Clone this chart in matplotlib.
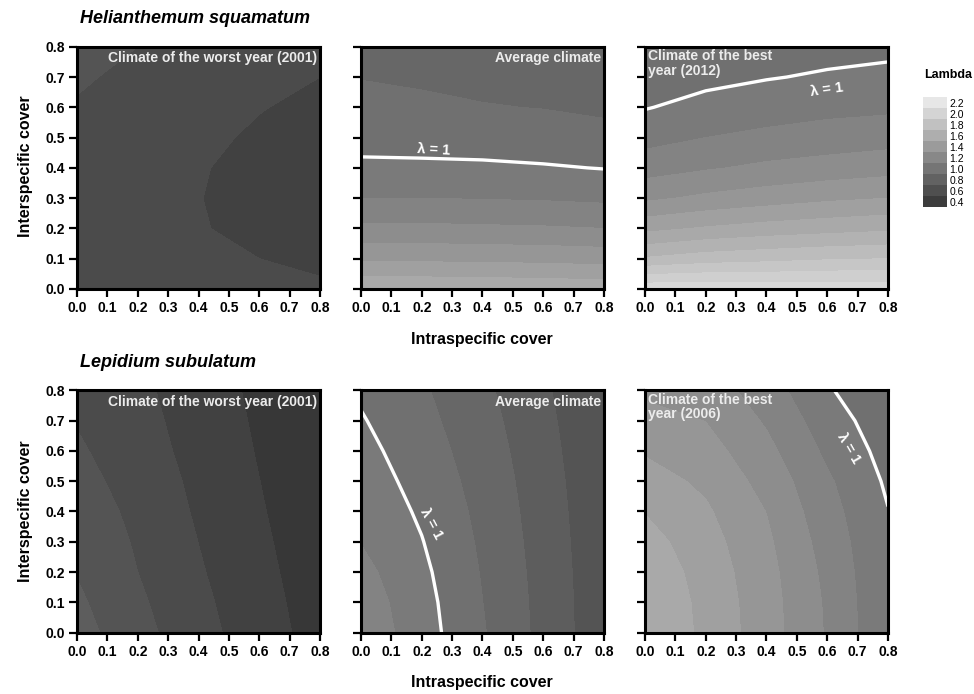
import numpy as np
import matplotlib
matplotlib.use("Agg")
import matplotlib.pyplot as plt
from matplotlib.colors import LinearSegmentedColormap, Normalize

plt.rcParams['font.family'] = ['Liberation Sans', 'DejaVu Sans']
plt.rcParams['font.weight'] = 'bold'

# grid of the model surfaces (cover values)
intra = [0.0, 0.2, 0.4, 0.6, 0.8]
inter = [0.0, 0.1, 0.2, 0.3, 0.4, 0.5, 0.6, 0.7, 0.8]

# lambda, one row per interspecific cover value
h_worst = [
    [0.560, 0.540, 0.525, 0.515, 0.510],
    [0.557, 0.535, 0.515, 0.500, 0.486],
    [0.555, 0.530, 0.505, 0.480, 0.465],
    [0.555, 0.530, 0.502, 0.475, 0.455],
    [0.560, 0.535, 0.505, 0.480, 0.460],
    [0.570, 0.545, 0.515, 0.490, 0.470],
    [0.592, 0.560, 0.532, 0.503, 0.485],
    [0.612, 0.578, 0.550, 0.525, 0.500],
    [0.630, 0.600, 0.570, 0.545, 0.520],
]
h_avg = [
    [1.580, 1.580, 1.575, 1.570, 1.560],
    [1.380, 1.380, 1.375, 1.370, 1.360],
    [1.220, 1.220, 1.215, 1.210, 1.200],
    [1.100, 1.100, 1.095, 1.090, 1.080],
    [1.020, 1.018, 1.015, 1.008, 0.997],
    [0.965, 0.962, 0.958, 0.948, 0.935],
    [0.935, 0.920, 0.905, 0.897, 0.880],
    [0.896, 0.885, 0.875, 0.862, 0.850],
    [0.870, 0.860, 0.850, 0.840, 0.830],
]
h_best = [
    [2.070, 2.070, 2.060, 2.060, 2.050],
    [1.710, 1.750, 1.770, 1.790, 1.800],
    [1.470, 1.510, 1.540, 1.560, 1.580],
    [1.280, 1.320, 1.350, 1.380, 1.400],
    [1.155, 1.190, 1.220, 1.240, 1.260],
    [1.065, 1.100, 1.125, 1.145, 1.160],
    [0.995, 1.030, 1.050, 1.070, 1.080],
    [0.950, 0.975, 0.995, 1.010, 1.020],
    [0.920, 0.940, 0.955, 0.970, 0.980],
]
l_worst = [
    [0.740, 0.633, 0.535, 0.446, 0.360],
    [0.718, 0.617, 0.523, 0.437, 0.353],
    [0.695, 0.600, 0.510, 0.427, 0.346],
    [0.674, 0.589, 0.499, 0.418, 0.339],
    [0.653, 0.577, 0.487, 0.409, 0.332],
    [0.634, 0.560, 0.478, 0.401, 0.326],
    [0.614, 0.543, 0.468, 0.393, 0.319],
    [0.594, 0.532, 0.459, 0.386, 0.313],
    [0.574, 0.521, 0.450, 0.379, 0.307],
]
l_avg = [
    [1.170, 1.044, 0.909, 0.770, 0.633],
    [1.155, 1.036, 0.901, 0.768, 0.632],
    [1.130, 1.022, 0.893, 0.764, 0.630],
    [1.097, 1.004, 0.884, 0.759, 0.627],
    [1.075, 0.985, 0.874, 0.753, 0.623],
    [1.053, 0.965, 0.863, 0.746, 0.619],
    [1.031, 0.946, 0.851, 0.737, 0.614],
    [1.008, 0.929, 0.837, 0.727, 0.609],
    [0.985, 0.913, 0.822, 0.716, 0.603],
]
l_best = [
    [1.600, 1.475, 1.344, 1.190, 1.010],
    [1.594, 1.470, 1.341, 1.186, 1.009],
    [1.574, 1.458, 1.333, 1.175, 1.007],
    [1.540, 1.440, 1.318, 1.158, 1.005],
    [1.496, 1.414, 1.298, 1.136, 1.003],
    [1.443, 1.380, 1.265, 1.115, 0.985],
    [1.390, 1.340, 1.228, 1.080, 0.965],
    [1.337, 1.298, 1.188, 1.046, 0.945],
    [1.280, 1.255, 1.148, 1.010, 0.925],
]

panel_titles = ['Climate of the worst year (2001)', 'Average climate', 'Climate of the best\nyear (2012)',
                'Climate of the worst year (2001)', 'Average climate', 'Climate of the best\nyear (2006)']
species = ['Helianthemum squamatum', 'Lepidium subulatum']
cbar_values = [0.4, 0.6, 0.8, 1.0, 1.2, 1.4, 1.6, 1.8, 2.0, 2.2]
ticks = [0.0, 0.1, 0.2, 0.3, 0.4, 0.5, 0.6, 0.7, 0.8]

surfaces = [h_worst, h_avg, h_best, l_worst, l_avg, l_best]
# where the "lambda = 1" tag sits (x, y, rotation); None when the line is absent
tags = [None, (0.238, 0.46, -3), (0.60, 0.658, 8), None, (0.232, 0.36, -62), (0.67, 0.608, -60)]

levels = np.round(np.arange(3, 24) * 0.1, 1)
cmap = LinearSegmentedColormap.from_list('lam', [(0.2, 0.2, 0.2), (0.94, 0.94, 0.94)])
norm = Normalize(vmin=0.3, vmax=2.3)
txt_col = '#ececec'

fig = plt.figure(figsize=(9.74, 6.94), dpi=100)
lefts = [0.0791, 0.3706, 0.6622]
bottoms = [0.5836, 0.0885]

for i, Z in enumerate(surfaces):
    row, col = divmod(i, 3)
    ax = fig.add_axes([lefts[col], bottoms[row], 0.2495, 0.349])
    Z = np.array(Z)
    ax.contourf(intra, inter, Z, levels=levels, cmap=cmap, norm=norm)
    if tags[i] is not None:
        ax.contour(intra, inter, Z, levels=[1.0], colors='white', linewidths=2.4)
        tx, ty, rot = tags[i]
        ax.text(tx, ty, 'λ = 1', color='white', fontsize=10.5, rotation=rot,
                ha='center', va='center')
    ax.set_xlim(0, 0.8)
    ax.set_ylim(0, 0.8)
    ax.set_xticks(ticks)
    ax.set_yticks(ticks)
    ax.set_xticklabels([f'{t:.1f}' for t in ticks])
    if col == 0:
        ax.set_yticklabels([f'{t:.1f}' for t in ticks])
    else:
        ax.set_yticklabels([])
    ax.tick_params(direction='out', length=6, width=1.6, labelsize=10, pad=3)
    for s in ax.spines.values():
        s.set_linewidth(2.2)
    if col == 2:
        ax.text(0.013, 0.99, panel_titles[i], transform=ax.transAxes, color=txt_col,
                fontsize=10, ha='left', va='top', linespacing=1.05)
    else:
        ax.text(0.988, 0.953, panel_titles[i], transform=ax.transAxes, color=txt_col,
                fontsize=10, ha='right', va='center')

fig.text(0.082, 0.973, species[0], fontsize=13, style='italic', va='center')
fig.text(0.082, 0.477, species[1], fontsize=13, style='italic', va='center')
fig.text(0.026, 0.760, 'Interspecific cover', fontsize=11.5, rotation=90, ha='center', va='center')
fig.text(0.026, 0.263, 'Interspecific cover', fontsize=11.5, rotation=90, ha='center', va='center')
fig.text(0.495, 0.511, 'Intraspecific cover', fontsize=11.5, ha='center', va='center')
fig.text(0.495, 0.016, 'Intraspecific cover', fontsize=11.5, ha='center', va='center')

# legend of lambda classes
cax = fig.add_axes([0.9476, 0.7017, 0.0246, 0.1585])
edges = np.arange(len(cbar_values) + 1)
cax.pcolormesh([0, 1], edges, np.array(cbar_values)[:, None], cmap=cmap, norm=norm)
cax.set_xlim(0, 1)
cax.set_ylim(0, len(cbar_values))
cax.set_xticks([])
cax.yaxis.tick_right()
cax.set_yticks(edges[:-1] + 0.5)
cax.set_yticklabels([f'{v:.1f}' for v in cbar_values],
                    family=['Liberation Sans Narrow', 'Liberation Sans'], fontsize=7.5,
                    fontweight='normal')
cax.tick_params(length=0, pad=2)
for s in cax.spines.values():
    s.set_visible(False)
fig.text(0.973, 0.892, 'Lambda', fontsize=9, ha='center', va='center')

fig.savefig('out.png', dpi=100)
